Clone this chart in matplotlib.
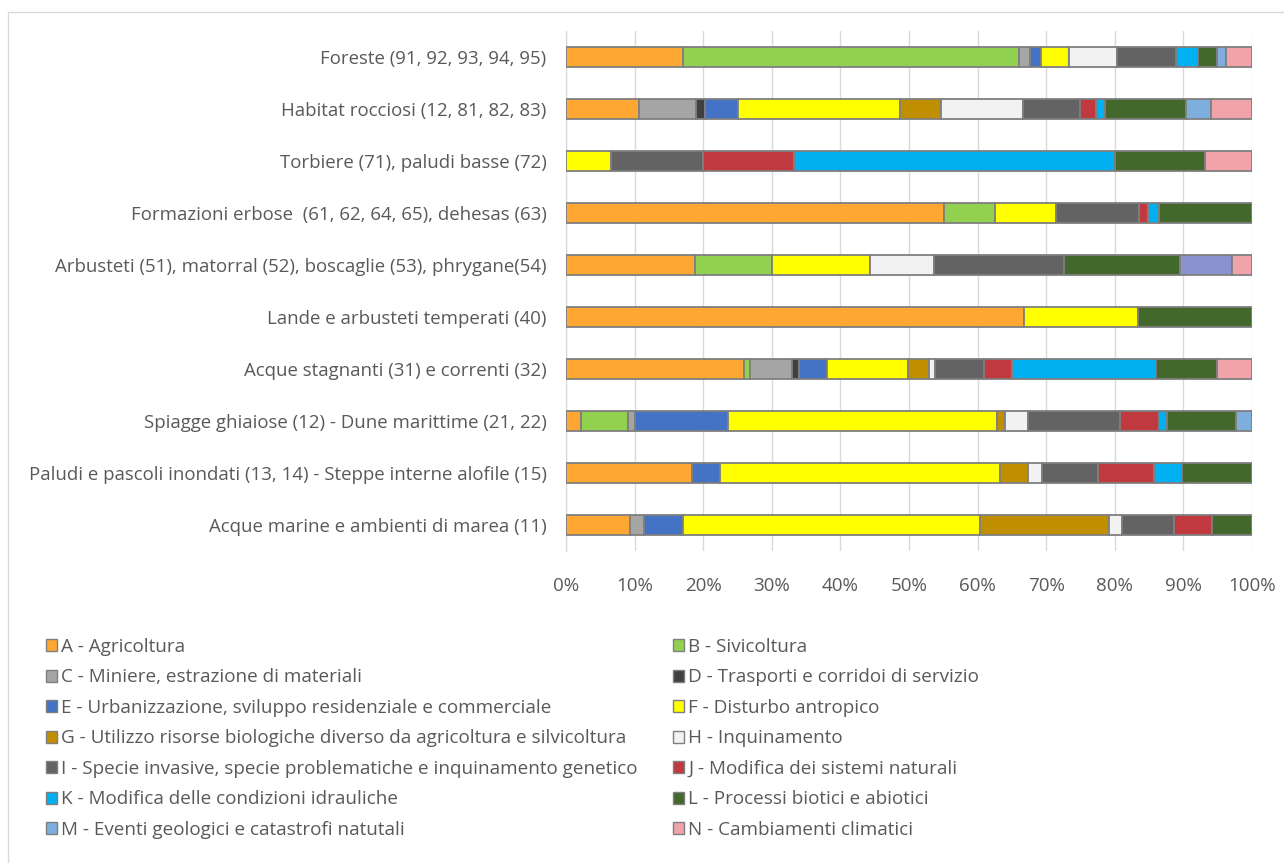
import numpy as np
import matplotlib
matplotlib.use('Agg')
import matplotlib.pyplot as plt
from matplotlib.patches import Patch, Rectangle
from matplotlib.ticker import PercentFormatter

# habitat groups, top to bottom as in the chart
habitats = [
    'Foreste (91, 92, 93, 94, 95)',
    'Habitat rocciosi (12, 81, 82, 83)',
    'Torbiere (71), paludi basse (72)',
    'Formazioni erbose  (61, 62, 64, 65), dehesas (63)',
    'Arbusteti (51), matorral (52), boscaglie (53), phrygane(54)',
    'Lande e arbusteti temperati (40)',
    'Acque stagnanti (31) e correnti (32)',
    'Spiagge ghiaiose (12) - Dune marittime (21, 22)',
    'Paludi e pascoli inondati (13, 14) - Steppe interne alofile (15)',
    'Acque marine e ambienti di marea (11)',
]

# pressure categories (share %, one value per habitat, same order)
A = [17.1, 10.7, 0.0, 55.1, 18.8, 66.7, 25.9, 2.2, 18.4, 9.4]
B = [48.9, 0.0, 0.0, 7.5, 11.3, 0.0, 0.9, 6.8, 0.0, 0.0]
C = [1.6, 8.3, 0.0, 0.0, 0.0, 0.0, 6.1, 1.1, 0.0, 1.9]
D = [0.0, 1.2, 0.0, 0.0, 0.0, 0.0, 1.1, 0.0, 0.0, 0.0]
E = [1.6, 4.8, 0.0, 0.0, 0.0, 0.0, 4.0, 13.5, 4.1, 5.7]
F = [4.1, 23.7, 6.6, 8.9, 14.2, 16.7, 11.8, 39.2, 40.8, 43.3]
G = [0.0, 6.0, 0.0, 0.0, 0.0, 0.0, 3.1, 1.2, 4.1, 18.8]
H = [6.9, 11.9, 0.0, 0.0, 9.4, 0.0, 0.9, 3.4, 2.0, 1.9]
I = [8.6, 8.3, 13.4, 12.0, 18.9, 0.0, 7.1, 13.4, 8.2, 7.6]
J = [0.0, 2.3, 13.2, 1.4, 0.0, 0.0, 4.1, 5.6, 8.2, 5.6]
K = [3.2, 1.3, 46.8, 1.5, 0.0, 0.0, 21.0, 1.2, 4.1, 0.0]
L = [2.8, 11.9, 13.2, 13.6, 16.9, 16.6, 8.9, 10.0, 10.2, 5.8]
M = [1.3, 3.6, 0.0, 0.0, 7.6, 0.0, 0.0, 2.4, 0.0, 0.0]
N = [3.8, 6.0, 6.8, 0.0, 2.9, 0.0, 5.1, 0.0, 0.0, 0.0]

labels = [
    'A - Agricoltura',
    'B - Sivicoltura',
    'C - Miniere, estrazione di materiali',
    'D - Trasporti e corridoi di servizio',
    'E - Urbanizzazione, sviluppo residenziale e commerciale',
    'F - Disturbo antropico',
    'G - Utilizzo risorse biologiche diverso da agricoltura e silvicoltura',
    'H - Inquinamento',
    'I - Specie invasive, specie problematiche e inquinamento genetico',
    'J - Modifica dei sistemi naturali',
    'K - Modifica delle condizioni idrauliche',
    'L - Processi biotici e abiotici',
    'M - Eventi geologici e catastrofi natutali',
    'N - Cambiamenti climatici',
]
series = [A, B, C, D, E, F, G, H, I, J, K, L, M, N]
colors = ['#FFA733', '#92D050', '#A5A5A5', '#404040', '#4472C4', '#FFFF00',
          '#BF8F00', '#F2F2F2', '#636363', '#C0393F', '#00B0F0', '#43682B',
          '#7EAEDD', '#F0A3A8']
# one M segment (Arbusteti row) is drawn in a periwinkle shade in the source
m_override = {4: '#8B93CF'}

TXT = '#595959'
plt.rcParams['font.family'] = ['Open Sans', 'DejaVu Sans']

W, Hpx = 1284, 863
fig = plt.figure(figsize=(W / 100, Hpx / 100), dpi=100)

# chart-area border (cut at right/bottom like the source)
fig.add_artist(Rectangle((8 / W, 0 - 0.01), 1.05, 1 - 12 / Hpx + 0.01,
                         transform=fig.transFigure, fill=False,
                         edgecolor='#D9D9D9', lw=1.0))

ax = fig.add_axes([566 / W, 1 - 551 / Hpx, (1252 - 566) / W, (551 - 31) / Hpx])

data = np.array(series, dtype=float)
data = data / data.sum(axis=0) * 100.0
y = np.arange(len(habitats))
left = np.zeros(len(habitats))
for k, vals in enumerate(data):
    for i, v in enumerate(vals):
        if v <= 0:
            continue
        c = colors[k]
        if k == 12 and i in m_override:
            c = m_override[i]
        ax.barh(y[i], v, left=left[i], height=0.4, color=c,
                edgecolor='#7F7F7F', linewidth=1.3, zorder=3)
    left += vals

ax.set_xlim(0, 100)
ax.set_ylim(len(habitats) - 0.5, -0.5)
ax.set_yticks(y)
ax.set_yticklabels(habitats, fontsize=13.4, color=TXT)
ax.set_xticks(np.arange(0, 101, 10))
ax.xaxis.set_major_formatter(PercentFormatter(decimals=0))
ax.tick_params(axis='x', length=0, pad=19, labelsize=13.5, labelcolor=TXT)
ax.tick_params(axis='y', length=0, pad=14)
ax.grid(axis='x', color='#D9D9D9', lw=1.0, zorder=0)
for s in ['top', 'right', 'bottom']:
    ax.spines[s].set_visible(False)
ax.spines['left'].set_color('#D9D9D9')

handles = [Patch(facecolor=c, edgecolor='#7F7F7F', lw=1.0) for c in colors]
leg_kw = dict(frameon=False, fontsize=13.6, labelcolor=TXT, handlelength=0.6,
              handleheight=0.6, handletextpad=0.2, labelspacing=0.66,
              loc='upper left', borderaxespad=0, borderpad=0)
fig.legend(handles[0::2], labels[0::2], bbox_to_anchor=(46 / W, 1 - 638 / Hpx), **leg_kw)
fig.legend(handles[1::2], labels[1::2], bbox_to_anchor=(673 / W, 1 - 638 / Hpx), **leg_kw)

fig.savefig('out.png', dpi=100, facecolor='white')
